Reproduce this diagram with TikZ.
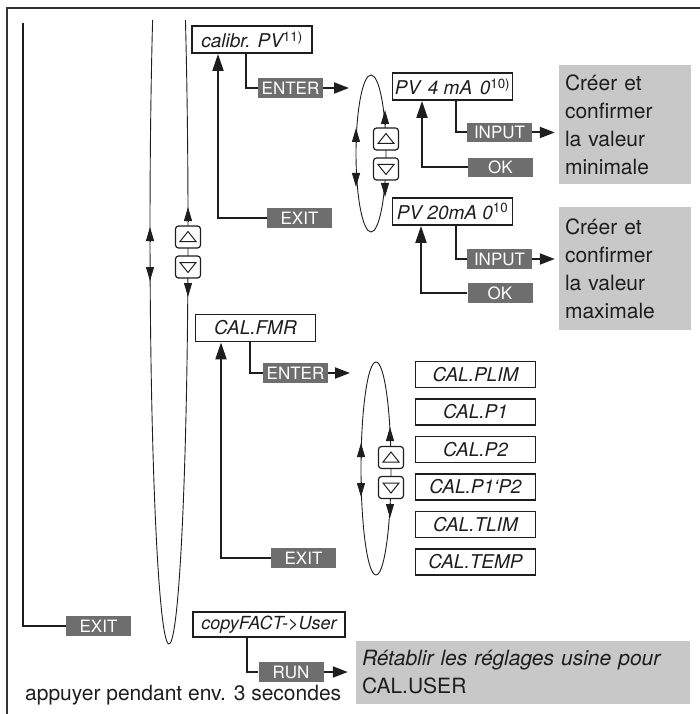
\documentclass[tikz,border=0pt]{standalone}
\usepackage{fontspec}
\setmainfont{TeX Gyre Heros}
\usetikzlibrary{arrows.meta}
\definecolor{ink}{HTML}{1E1E1E}
\definecolor{keygray}{HTML}{6E6E6E}
\definecolor{notegray}{HTML}{C8C8C8}
\definecolor{framegray}{HTML}{333333}
\newcommand\dispfont{\fontsize{19}{22}\selectfont\itshape}
\newcommand\keyfont{\fontsize{17}{19}\selectfont}
\newcommand\notefont{\fontsize{21}{28}\selectfont}

\begin{document}
\begin{tikzpicture}[x=1pt, y=-1pt,
  border/.style={framegray, line width=1.5pt},
  conn/.style={ink, line width=2pt},
  go/.style={conn, -{Triangle[length=15pt, width=11pt]}},
  back/.style={conn, -{Triangle[length=17pt, width=11pt]}},
  ring/.style={ink, line width=0.9pt},
  ringtip/.style={ring, -{Triangle[length=14pt, width=8pt]}},
  disp/.style={draw=ink, line width=1.8pt, fill=white, text=ink, font=\dispfont,
    minimum width=120pt, minimum height=27pt, inner sep=0pt},
  keybox/.style={fill=keygray, text=white, font=\keyfont,
    minimum width=65pt, minimum height=19.5pt, inner sep=0pt},
  note/.style={fill=notegray, text=ink, font=\notefont, align=left, inner xsep=6pt},
  btn/.style={draw=ink, line width=1.2pt, fill=white, rounded corners=3pt,
    minimum width=25pt, minimum height=22pt, inner sep=0pt},
  btnup/.style={btn, path picture={\draw[ink, line width=1pt, sharp corners]
    ([xshift=-8pt, yshift=-4.5pt]path picture bounding box.center)
    -- ++(16pt,0pt) -- ++(-8pt,10pt) -- cycle;}},
  btndn/.style={btn, path picture={\draw[ink, line width=1pt, sharp corners]
    ([xshift=-8pt, yshift=4.5pt]path picture bounding box.center)
    -- ++(16pt,0pt) -- ++(-8pt,-10pt) -- cycle;}},
]
\useasboundingbox (0,0) rectangle (700,714);

% frame (top and left only)
\draw[border] (7,714) |- (700,8);

% scroll loops
\draw[ring] (152.6,20) arc[start angle=210.24, end angle=-30.24, x radius=19, y radius=415];
\draw[ring] (371,153.5) ellipse[x radius=15, y radius=78.5];
\draw[ring] (376,468.5) ellipse[x radius=15, y radius=106.5];

\draw[ringtip] (150,241) -- (150,227);
\draw[ringtip] (150,267) -- (150,281);
\draw[ringtip] (188,221) -- (188,207);
\draw[ringtip] (188,283) -- (188,297);

\draw[ringtip] (356,142) -- (356,128);
\draw[ringtip] (356,173) -- (356,187);
\draw[ringtip] (385,125) -- (385,110);
\draw[ringtip] (385,183) -- (385,197);

\draw[ringtip] (361,457) -- (361,443);
\draw[ringtip] (361,482) -- (361,497);
\draw[ringtip] (390,442) -- (390,427);
\draw[ringtip] (390,503) -- (390,518);

% up / down buttons
\node[btnup] (up0) at (188,237) {};
\node[btndn] (dn0) at (188,267) {};
\node[btnup] (up1) at (386,139) {};
\node[btndn] (dn1) at (386,169) {};
\node[btnup] (up2) at (391,457.5) {};
\node[btndn] (dn2) at (391,487.5) {};

% display entries
\node[disp] (calib) at (252,39.5) {calibr. PV\textsuperscript{\upshape 11)}};
\node[disp] (pv4) at (452.5,86.5)
  {PV\hspace{0.4em}4 mA\hspace{0.4em}0\textsuperscript{\upshape 10)}};
\node[disp] (pv20) at (452.5,211.5) {PV 20mA 0\textsuperscript{\upshape 10}};
\node[disp] (fmr) at (255.5,328) {CAL.FMR};
\node[disp, font=\fontsize{18}{21}\selectfont\itshape, minimum width=152pt,
  minimum height=25pt] (copy) at (269,624.5) {copyFACT-{}>User};

\foreach \name [count=\i from 0] in {PLIM,P1,P2,P1`P2,TLIM,TEMP}
  \node[disp, minimum height=26pt] (cal\i) at (475.5,{374.5+37.5*\i}) {CAL.\name};

% keys
\node[keybox] (enter1) at (290.5,88) {ENTER};
\node[keybox] (exit1) at (299.5,218) {EXIT};
\node[keybox] (input1) at (499.5,132.5) {INPUT};
\node[keybox] (ok1) at (500.5,167.5) {OK};
\node[keybox] (input2) at (499.5,259) {INPUT};
\node[keybox] (ok2) at (500,293) {OK};
\node[keybox] (enter2) at (295.5,373) {ENTER};
\node[keybox] (exit2) at (303.5,558) {EXIT};
\node[keybox] (exit0) at (98.5,626) {EXIT};
\node[keybox] (run) at (291,672) {RUN};

% notes
\node[note, text width=120pt, minimum height=119pt] (note1) at (625,124.5)
  {Créer et\\confirmer\\la valeur\\minimale};
\node[note, text width=120pt, minimum height=123pt] (note2) at (625,268.5)
  {Créer et\\confirmer\\la valeur\\maximale};
\node[note, text width=322pt, minimum height=63pt] (note3) at (523,672.5)
  {\textit{Rétablir les réglages usine pour}\\CAL.USER};
\node[ink, font=\notefont, anchor=base west, inner sep=0pt] (hold) at (25,700)
  {appuyer pendant env. 3 secondes};

% connectors
\coordinate (pvin) at (349,88);
\coordinate (fmrin) at (350,373);
\coordinate (top0) at (23,23);

\draw[conn] ([xshift=-6pt]calib.south) |- (enter1.west);
\draw[go] (enter1.east) -- (pvin);
\draw[back] (exit1.west) -| ([xshift=-34pt]calib.south);

\draw[conn] ([xshift=3.5pt]pv4.south) |- (input1.west);
\draw[go, shorten >=4pt] (input1.east) -- (input1.east -| note1.west);
\draw[back] (ok1.west) -| ([xshift=-30.5pt]pv4.south);

\draw[conn] ([xshift=3.5pt]pv20.south) |- (input2.west);
\draw[go, shorten >=4pt] (input2.east) -- (input2.east -| note2.west);
\draw[back] (ok2.west) -| ([xshift=-31.5pt]pv20.south);

\draw[conn] ([xshift=-5.5pt]fmr.south) |- (enter2.west);
\draw[go] (enter2.east) -- (fmrin);
\draw[back] (exit2.west) -| ([xshift=-34.5pt]fmr.south);

\draw[conn] (exit0.west) -| (top0);

\draw[conn] ([xshift=-22pt]copy.south) |- (run.west);
\draw[go, shorten >=8pt] (run.east) -- (run.east -| note3.west);

\end{tikzpicture}
\end{document}
